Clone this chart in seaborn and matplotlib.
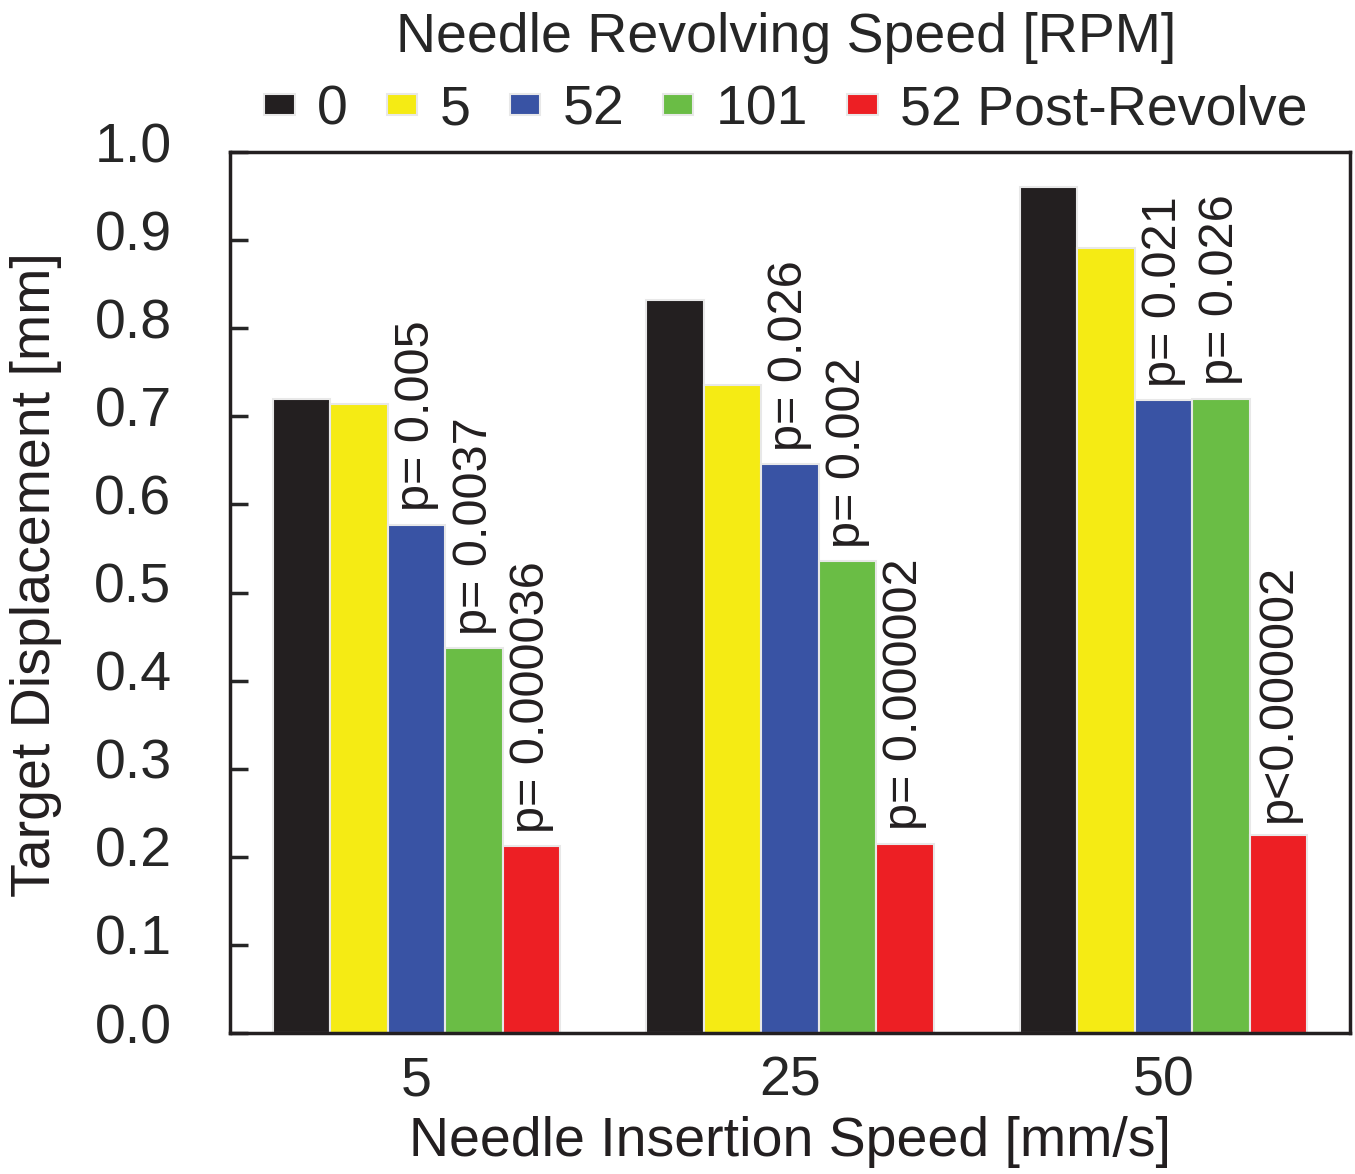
import numpy as np
import pandas as pd
import matplotlib
matplotlib.use("Agg")
import matplotlib.pyplot as plt
import matplotlib.transforms as mtransforms
import seaborn as sns

insertion_speeds = ["5", "25", "50"]
revolving_speeds = ["0", "5", "52", "101", "52 Post-Revolve"]
values_0 = [0.720, 0.832, 0.960]
values_5 = [0.714, 0.736, 0.891]
values_52 = [0.577, 0.646, 0.718]
values_101 = [0.437, 0.536, 0.720]
values_52post = [0.212, 0.215, 0.225]
p_labels_5 = [None, None, None]
p_labels_52 = ["p= 0.005", "p= 0.026", "p= 0.021"]
p_labels_101 = ["p= 0.0037", "p= 0.002", "p= 0.026"]
p_labels_52post = ["p= 0.000036", "p= 0.000002", "p<0.000002"]

colors = ["#231F20", "#F5EB14", "#3953A4", "#6ABD45", "#ED1F24"]

series = [values_0, values_5, values_52, values_101, values_52post]
labels = [[None] * 3, p_labels_5, p_labels_52, p_labels_101, p_labels_52post]

rows = []
for rs, vals in zip(revolving_speeds, series):
    for cat, v in zip(insertion_speeds, vals):
        rows.append({"Insertion": cat, "Revolving": rs, "Disp": v})
df = pd.DataFrame(rows)

sns.set_theme(style="white")
plt.rcParams["font.family"] = ["Liberation Sans", "DejaVu Sans"]

fig = plt.figure(figsize=(13.55, 11.74), dpi=100)
ax = fig.add_axes([0.1697, 0.1201, 0.8266, 0.7504])

sns.barplot(data=df, x="Insertion", y="Disp", hue="Revolving",
            order=insertion_speeds, hue_order=revolving_speeds,
            palette=colors, width=0.77, saturation=1,
            edgecolor="#e8e8e8", linewidth=1.5, ax=ax, legend=True)

ax.set_ylim(0, 1.0)
ax.set_xlim(-0.5, 2.5)
ax.set_yticks(np.arange(0, 1.01, 0.1))
ax.set_yticklabels([f"{t:.1f}" for t in np.arange(0, 1.01, 0.1)])
ax.tick_params(axis="y", direction="in", length=13, width=2.5, labelsize=40, pad=42, left=True)
ax.tick_params(axis="x", length=0, labelsize=40, pad=16)
offset = mtransforms.ScaledTranslation(0, 10 / 100, fig.dpi_scale_trans)
for lbl in ax.get_yticklabels():
    lbl.set_transform(lbl.get_transform() + offset)
for s in ax.spines.values():
    s.set_linewidth(2.5)
    s.set_color("#231F20")
ax.set_xlabel("Needle Insertion Speed [mm/s]", fontsize=40, labelpad=6, color="#231F20")
ax.set_ylabel("Target Displacement [mm]", fontsize=40, color="#231F20")
ax.yaxis.set_label_coords(-0.15, 0.52)

for container, labs in zip(ax.containers, labels):
    for bar, lab in zip(container, labs):
        if lab:
            ax.text(bar.get_x() + bar.get_width() / 2, bar.get_height() + 0.015, lab,
                    rotation=90, ha="center", va="bottom", fontsize=35, color="#231F20")

handles, leg_labels = ax.get_legend_handles_labels()
ax.get_legend().remove()
leg = fig.legend(handles, leg_labels, loc="upper center", bbox_to_anchor=(0.58, 1.009),
                 ncol=5, frameon=False, fontsize=40, title="Needle Revolving Speed [RPM]",
                 title_fontsize=40, handlelength=0.55, handleheight=0.22,
                 handletextpad=0.4, columnspacing=0.7, borderaxespad=0.0, labelspacing=0.38)

fig.savefig("out.png", dpi=100)
